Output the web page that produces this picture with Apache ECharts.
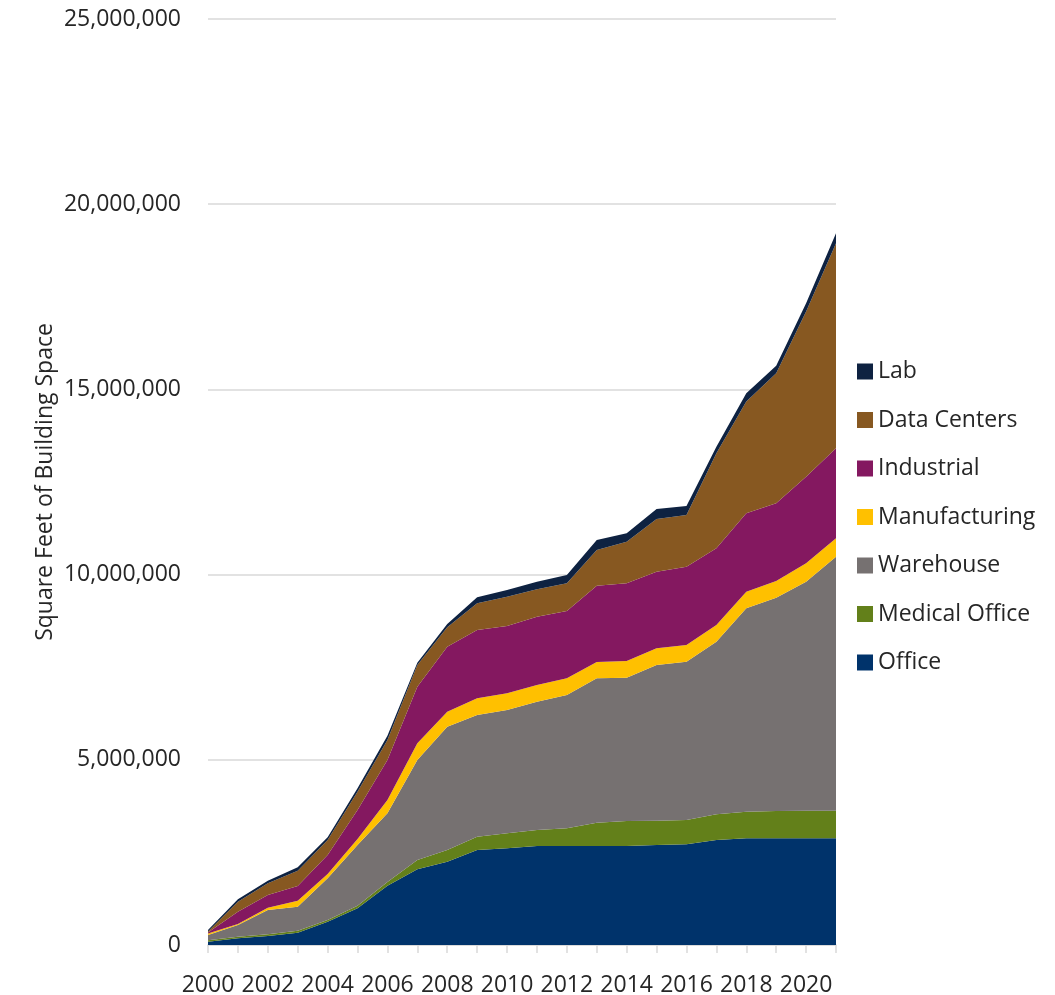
<!DOCTYPE html>
<html>
<head>
<meta charset="utf-8">
<script src="https://cdn.jsdelivr.net/npm/echarts@6/dist/echarts.min.js"></script>
<style>
html,body{margin:0;padding:0;background:#fff;}
#chart{width:1055px;height:995px;}
</style>
</head>
<body>
<div id="chart"></div>
<script>
var years = ['2000','2001','2002','2003','2004','2005','2006','2007','2008','2009','2010','2011','2012','2013','2014','2015','2016','2017','2018','2019','2020','2021'];
var office        = [90000,180000,243000,333000,630000,990000,1600000,2043000,2250000,2565000,2610000,2673000,2673000,2673000,2673000,2700000,2718000,2835000,2880000,2880000,2880000,2880000];
var medicalOffice = [40000,45000,45000,54000,45000,72000,100000,252000,315000,360000,405000,432000,477000,627000,675000,657000,657000,693000,720000,738000,747000,747000];
var warehouse     = [140000,315000,657000,648000,1125000,1638000,1855000,2700000,3330000,3285000,3330000,3465000,3600000,3900000,3870000,4203000,4275000,4662000,5490000,5760000,6183000,6858000];
var manufacturing = [40000,27000,63000,162000,117000,162000,360000,450000,405000,450000,450000,450000,450000,440000,450000,450000,450000,450000,450000,450000,495000,495000];
var industrial    = [25000,333000,342000,396000,513000,783000,1080000,1530000,1755000,1845000,1818000,1845000,1818000,2060000,2097000,2070000,2115000,2070000,2115000,2100000,2340000,2430000];
var dataCenters   = [30000,270000,315000,414000,405000,495000,540000,585000,522000,720000,792000,738000,747000,965000,1125000,1420000,1395000,2565000,3015000,3510000,4455000,5535000];
var lab           = [40000,63000,72000,90000,72000,90000,115000,60000,90000,162000,180000,207000,225000,270000,225000,270000,243000,180000,225000,198000,225000,270000];

var seriesNames  = ['Office','Medical Office','Warehouse','Manufacturing','Industrial','Data Centers','Lab'];
var seriesData   = [office, medicalOffice, warehouse, manufacturing, industrial, dataCenters, lab];
var seriesColors = ['#00336B','#63801A','#767171','#FFC000','#841860','#875821','#0E2241'];
var legendOrder  = ['Lab','Data Centers','Industrial','Manufacturing','Warehouse','Medical Office','Office'];

var FONT = '"Open Sans", "Noto Sans", sans-serif';
var TXT = '#262626';

var chart = echarts.init(document.getElementById('chart'), null, {renderer:'canvas'});
var series = seriesNames.map(function(n, i){
  return {
    name: n,
    type: 'line',
    stack: 'total',
    data: seriesData[i],
    showSymbol: false,
    symbol: 'none',
    lineStyle: {width: 0},
    areaStyle: {color: seriesColors[i], opacity: 1},
    itemStyle: {color: seriesColors[i]},
    emphasis: {disabled: true},
    animation: false
  };
});

chart.setOption({
  animation: false,
  textStyle: {fontFamily: FONT},
  grid: {left: 208, right: 219, top: 19, bottom: 50, containLabel: false, outerBoundsMode: 'none'},
  legend: {
    orient: 'vertical',
    left: 852,
    top: 355,
    data: legendOrder,
    icon: 'rect',
    itemWidth: 16,
    itemHeight: 16,
    itemGap: 25.5,
    textStyle: {fontFamily: FONT, fontSize: 23, color: TXT},
    selectedMode: false
  },
  xAxis: {
    type: 'category',
    data: years,
    boundaryGap: false,
    axisLine: {show: true, lineStyle: {color: '#D9D9D9', width: 1.5}},
    axisTick: {show: true, interval: 0, length: 8, lineStyle: {color: '#D9D9D9', width: 1.5}},
    axisLabel: {interval: 1, fontFamily: FONT, fontSize: 23, color: TXT, margin: 29},
    splitLine: {show: false}
  },
  yAxis: {
    type: 'value',
    min: 0,
    max: 25000000,
    interval: 5000000,
    name: 'Square Feet of Building Space',
    nameLocation: 'middle',
    nameGap: 151,
    nameMoveOverlap: false,
    nameTextStyle: {fontFamily: FONT, fontSize: 23, color: TXT},
    axisLine: {show: false},
    axisTick: {show: false},
    axisLabel: {
      fontFamily: FONT, fontSize: 23, color: TXT, margin: 27,
      formatter: function(v){ return v.toString().replace(/\B(?=(\d{3})+(?!\d))/g, ','); }
    },
    splitLine: {show: true, lineStyle: {color: '#D9D9D9', width: 1.5}}
  },
  series: series
});
</script>
</body>
</html>
